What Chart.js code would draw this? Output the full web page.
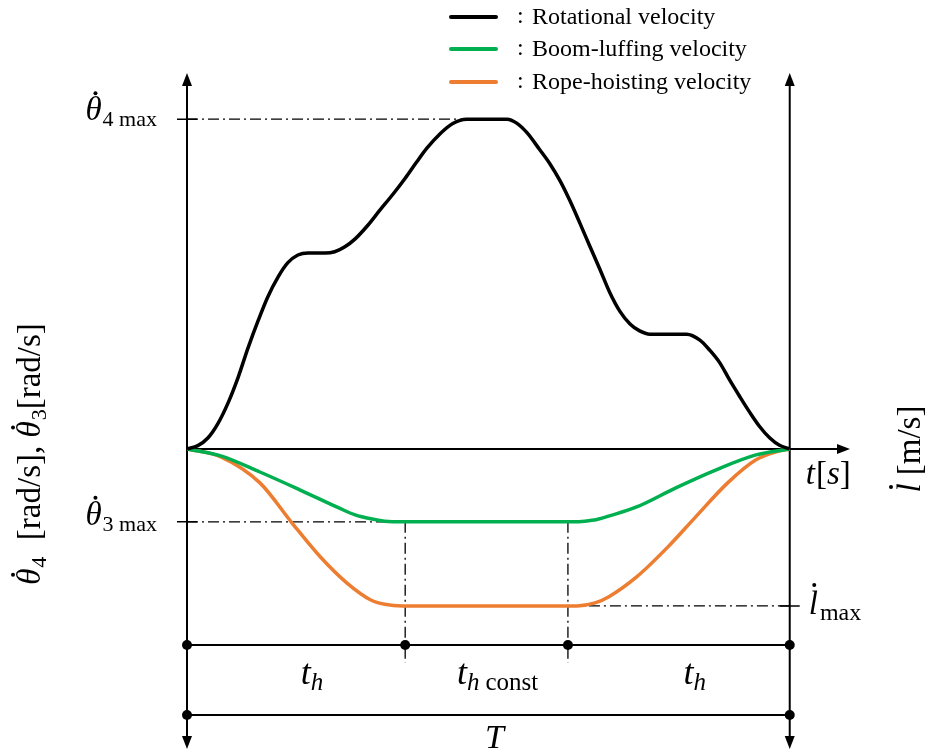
<!DOCTYPE html>
<html>
<head>
<meta charset="utf-8">
<script src="https://cdn.jsdelivr.net/npm/chart.js@4.4.1/dist/chart.umd.min.js"></script>
<style>
  html, body { margin: 0; padding: 0; background: #fff; }
</style>
</head>
<body>
<canvas id="myChart" width="928" height="752"></canvas>
<script>
// time axis normalised so that T = 100, velocities normalised so that theta4 max = 100
var rotTime = [0, 1.8, 3.5, 5.1, 6.8, 8.5, 10.1, 11.8, 13.4, 15.1, 16.7, 18.4, 20.1, 22.9, 24.5, 26.2, 27.9,
               29.9, 32.0, 34.2, 36.2, 38.1, 39.8, 42.0, 44.1, 46.4, 53.1, 54.7, 56.4, 58.5, 60.2, 61.9, 63.5,
               65.2, 66.8, 68.5, 70.1, 71.8, 73.5, 75.1, 76.8, 82.9, 85.1, 86.7, 88.4, 90.0, 91.7, 93.4, 95.0,
               96.7, 98.3, 100];
var rotVel  = [0, 1.0, 3.4, 7.6, 13.9, 21.8, 30.5, 38.9, 46.1, 52.1, 56.4, 58.8, 59.4, 59.4, 59.8, 61.3, 63.7,
               67.6, 72.4, 77.3, 82.1, 87.0, 91.2, 95.6, 98.7, 100, 100, 98.8, 95.9, 90.8, 86.5, 81.3, 75.4,
               68.4, 61.6, 54.5, 47.6, 41.8, 37.9, 35.8, 34.8, 34.8, 33.0, 30.0, 26.1, 21.0, 15.9, 11.0, 6.8,
               3.3, 1.1, 0];

var boomTime = [0, 5.6, 12.1, 18.7, 25.2, 27.9, 30.5, 32.8, 35.8, 64.2, 66.0, 68.0, 70.1, 74.6, 81.1, 87.7, 94.4, 100];
var boomVel  = [0, -2.1, -7.0, -12.4, -17.9, -20.0, -21.2, -21.9, -22.1, -22.1, -21.9, -21.4, -20.3, -17.6, -11.8, -6.4, -1.8, 0];

var ropeTime = [0, 5.6, 12.1, 17.4, 22.1, 26.5, 30.5, 32.8, 35.8, 64.7, 67.7, 70.0, 74.6, 79.8, 84.4, 89.7, 94.4, 97.7, 100];
var ropeVel  = [0, -2.4, -10.3, -22.4, -32.7, -40.6, -45.8, -47.1, -47.6, -47.6, -46.7, -44.8, -38.8, -29.7, -20.6, -10.3, -3.3, -0.9, 0];

var seriesNames  = ['Rotational velocity', 'Boom-luffing velocity', 'Rope-hoisting velocity'];
var seriesColors = ['#000000', '#00b050', '#ed7d31'];

// phase boundaries: t_h, t_h const, t_h
var phaseTimes = [0, 36.2, 63.2, 100];
var theta4Max = 100;
var theta3Max = -22.1;
var lMax = -47.6;

function toPoints(ts, vs) {
  return ts.map(function (t, i) { return { x: t, y: vs[i] }; });
}

var MATH = '"Liberation Serif", "DejaVu Serif", serif';

// draws a row of text pieces; pieces with dot set get a time-derivative dot above
function drawRuns(ctx, runs, x, y, align) {
  var total = 0;
  runs.forEach(function (r) {
    ctx.font = r.font;
    r.w = ctx.measureText(r.text).width;
    total += r.w + (r.gap || 0);
  });
  var cx = align === 'center' ? x - total / 2 : (align === 'right' ? x - total : x);
  runs.forEach(function (r) {
    ctx.font = r.font;
    ctx.fillText(r.text, cx, y + (r.dy || 0));
    if (r.dot) {
      ctx.beginPath();
      ctx.arc(cx + r.w * r.dot[0], y + r.dot[1], 2, 0, Math.PI * 2);
      ctx.fill();
    }
    cx += r.w + (r.gap || 0);
  });
}

function arrow(ctx, x, y, dir) {
  ctx.beginPath();
  if (dir === 'up') { ctx.moveTo(x, y); ctx.lineTo(x - 5, y + 13); ctx.lineTo(x + 5, y + 13); }
  if (dir === 'down') { ctx.moveTo(x, y); ctx.lineTo(x - 5, y - 13); ctx.lineTo(x + 5, y - 13); }
  if (dir === 'right') { ctx.moveTo(x, y); ctx.lineTo(x - 13, y - 5); ctx.lineTo(x - 13, y + 5); }
  ctx.closePath();
  ctx.fill();
}

function dot(ctx, x, y) {
  ctx.beginPath();
  ctx.arc(x, y, 5, 0, Math.PI * 2);
  ctx.fill();
}

function dashLine(ctx, x1, y1, x2, y2) {
  ctx.save();
  ctx.lineWidth = 1.3;
  ctx.setLineDash([11, 4, 2, 4]);
  ctx.beginPath();
  ctx.moveTo(x1, y1);
  ctx.lineTo(x2, y2);
  ctx.stroke();
  ctx.restore();
}

// axes, guide lines and time brackets under the curves
var axesPlugin = {
  id: 'axesPlugin',
  beforeDatasetsDraw: function (chart) {
    var ctx = chart.ctx;
    var xs = chart.scales.x, ys = chart.scales.y;
    var x0 = xs.getPixelForValue(phaseTimes[0]);
    var x1 = xs.getPixelForValue(phaseTimes[1]);
    var x2 = xs.getPixelForValue(phaseTimes[2]);
    var x3 = xs.getPixelForValue(phaseTimes[3]);
    var y0 = ys.getPixelForValue(0);
    var top = chart.chartArea.top, bottom = chart.chartArea.bottom, right = chart.chartArea.right;
    var yT4 = ys.getPixelForValue(theta4Max);
    var yT3 = ys.getPixelForValue(theta3Max);
    var yL = ys.getPixelForValue(lMax);
    var rowA = y0 + 196, rowB = y0 + 266;

    ctx.save();
    ctx.strokeStyle = '#000';
    ctx.fillStyle = '#000';
    ctx.lineWidth = 2;

    // vertical axes with arrows at both ends
    [x0, x3].forEach(function (x) {
      ctx.beginPath();
      ctx.moveTo(x, top + 4);
      ctx.lineTo(x, bottom - 4);
      ctx.stroke();
      arrow(ctx, x, top, 'up');
      arrow(ctx, x, bottom, 'down');
    });

    // time axis
    ctx.beginPath();
    ctx.moveTo(x0, y0);
    ctx.lineTo(right - 4, y0);
    ctx.stroke();
    arrow(ctx, right, y0, 'right');

    // ticks
    ctx.lineWidth = 1.5;
    ctx.beginPath();
    ctx.moveTo(x0 - 10, yT4); ctx.lineTo(x0 + 10, yT4);
    ctx.moveTo(x0 - 10, yT3); ctx.lineTo(x0 + 10, yT3);
    ctx.moveTo(x3 - 10, yL); ctx.lineTo(x3 + 10, yL);
    ctx.stroke();

    // dash-dot guides
    dashLine(ctx, x0, yT4, xs.getPixelForValue(46.4), yT4);
    dashLine(ctx, x0, yT3, x1, yT3);
    dashLine(ctx, x2, yL, x3, yL);
    dashLine(ctx, x1, yT3, x1, rowA + 18);
    dashLine(ctx, x2, yT3, x2, rowA + 18);

    // time brackets
    ctx.lineWidth = 2;
    ctx.beginPath();
    ctx.moveTo(x0, rowA); ctx.lineTo(x3, rowA);
    ctx.moveTo(x0, rowB); ctx.lineTo(x3, rowB);
    ctx.stroke();
    [x0, x1, x2, x3].forEach(function (x) { dot(ctx, x, rowA); });
    dot(ctx, x0, rowB);
    dot(ctx, x3, rowB);
    ctx.restore();
  },
  afterDatasetsDraw: function (chart) {
    var ctx = chart.ctx;
    var xs = chart.scales.x, ys = chart.scales.y;
    var x0 = xs.getPixelForValue(phaseTimes[0]);
    var x1 = xs.getPixelForValue(phaseTimes[1]);
    var x2 = xs.getPixelForValue(phaseTimes[2]);
    var x3 = xs.getPixelForValue(phaseTimes[3]);
    var y0 = ys.getPixelForValue(0);
    var yT4 = ys.getPixelForValue(theta4Max);
    var yT3 = ys.getPixelForValue(theta3Max);
    var yL = ys.getPixelForValue(lMax);

    var big = 'italic 33px ' + MATH;
    var up = '33px ' + MATH;
    var sub = '22px ' + MATH;
    var thetaDot = [0.62, -27];
    var ellDot = [0.6, -29];

    ctx.save();
    ctx.fillStyle = '#000';
    ctx.textBaseline = 'alphabetic';

    // value labels
    drawRuns(ctx, [{ text: 'θ', font: big, gap: 1, dot: thetaDot }, { text: '4 max', font: sub, dy: 6 }], x0 - 30, yT4 + 1, 'right');
    drawRuns(ctx, [{ text: 'θ', font: big, gap: 1, dot: thetaDot }, { text: '3 max', font: sub, dy: 6 }], x0 - 30, yT3 + 3, 'right');
    drawRuns(ctx, [{ text: 'l', font: big, gap: 2, dot: ellDot }, { text: 'max', font: '24px ' + MATH, dy: 6 }], x3 + 19, yL + 8, 'left');
    drawRuns(ctx, [{ text: 't', font: big, gap: 1 }, { text: '[', font: up }, { text: 's', font: big }, { text: ']', font: up }],
      x3 + 16, y0 + 35, 'left');

    // phase labels
    var yLab = y0 + 235;
    var tFont = 'italic 36px ' + MATH;
    var hFont = 'italic 25px ' + MATH;
    drawRuns(ctx, [{ text: 't', font: tFont }, { text: 'h', font: hFont, dy: 6 }], (x0 + x1) / 2 + 16, yLab, 'center');
    drawRuns(ctx, [{ text: 't', font: tFont }, { text: 'h', font: hFont, dy: 6, gap: 6 }, { text: 'const', font: '25px ' + MATH, dy: 6 }],
      (x1 + x2) / 2 + 11, yLab, 'center');
    drawRuns(ctx, [{ text: 't', font: tFont }, { text: 'h', font: hFont, dy: 6 }], (x2 + x3) / 2 + 16, yLab, 'center');
    drawRuns(ctx, [{ text: 'T', font: 'italic 34px ' + MATH }], (x0 + x3) / 2 + 6, y0 + 299, 'center');

    // rotated axis titles
    ctx.save();
    ctx.translate(40, 454);
    ctx.rotate(-Math.PI / 2);
    drawRuns(ctx, [
      { text: 'θ', font: big, gap: 1, dot: thetaDot }, { text: '4', font: sub, dy: 6 },
      { text: '  [rad/s], ', font: up },
      { text: 'θ', font: big, gap: 1, dot: thetaDot }, { text: '3', font: sub, dy: 6 },
      { text: '[rad/s]', font: up }
    ], 0, 0, 'center');
    ctx.restore();

    ctx.save();
    ctx.translate(920, 449);
    ctx.rotate(-Math.PI / 2);
    drawRuns(ctx, [{ text: 'l', font: big, gap: 8, dot: ellDot }, { text: '[m/s]', font: up }], 0, 0, 'center');
    ctx.restore();

    // legend
    ctx.textBaseline = 'middle';
    ctx.lineCap = 'round';
    ctx.lineWidth = 4;
    [17, 49, 82].forEach(function (ly, i) {
      ctx.strokeStyle = seriesColors[i];
      ctx.beginPath();
      ctx.moveTo(451, ly);
      ctx.lineTo(496, ly);
      ctx.stroke();
      ctx.font = '24px ' + MATH;
      ctx.fillText(':', 517, ly);
      ctx.fillText(seriesNames[i], 532, ly + 1);
    });
    ctx.restore();
  }
};

window.onload = function () {
  var ctx = document.getElementById('myChart').getContext('2d');
  var chart = new Chart(ctx, {
    type: 'line',
    data: {
      datasets: [
        { label: seriesNames[0], data: toPoints(rotTime, rotVel), borderColor: seriesColors[0] },
        { label: seriesNames[1], data: toPoints(boomTime, boomVel), borderColor: seriesColors[1] },
        { label: seriesNames[2], data: toPoints(ropeTime, ropeVel), borderColor: seriesColors[2] }
      ]
    },
    options: {
      responsive: false,
      animation: false,
      layout: { padding: { left: 187, right: 78, top: 73, bottom: 3 } },
      elements: {
        line: { borderWidth: 3.5, cubicInterpolationMode: 'monotone', fill: false },
        point: { radius: 0 }
      },
      plugins: { legend: { display: false }, tooltip: { enabled: false } },
      scales: {
        x: { type: 'linear', min: 0, max: 110, display: false },
        y: { type: 'linear', min: -91, max: 114, display: false }
      }
    },
    plugins: [axesPlugin]
  });
};
</script>
</body>
</html>
